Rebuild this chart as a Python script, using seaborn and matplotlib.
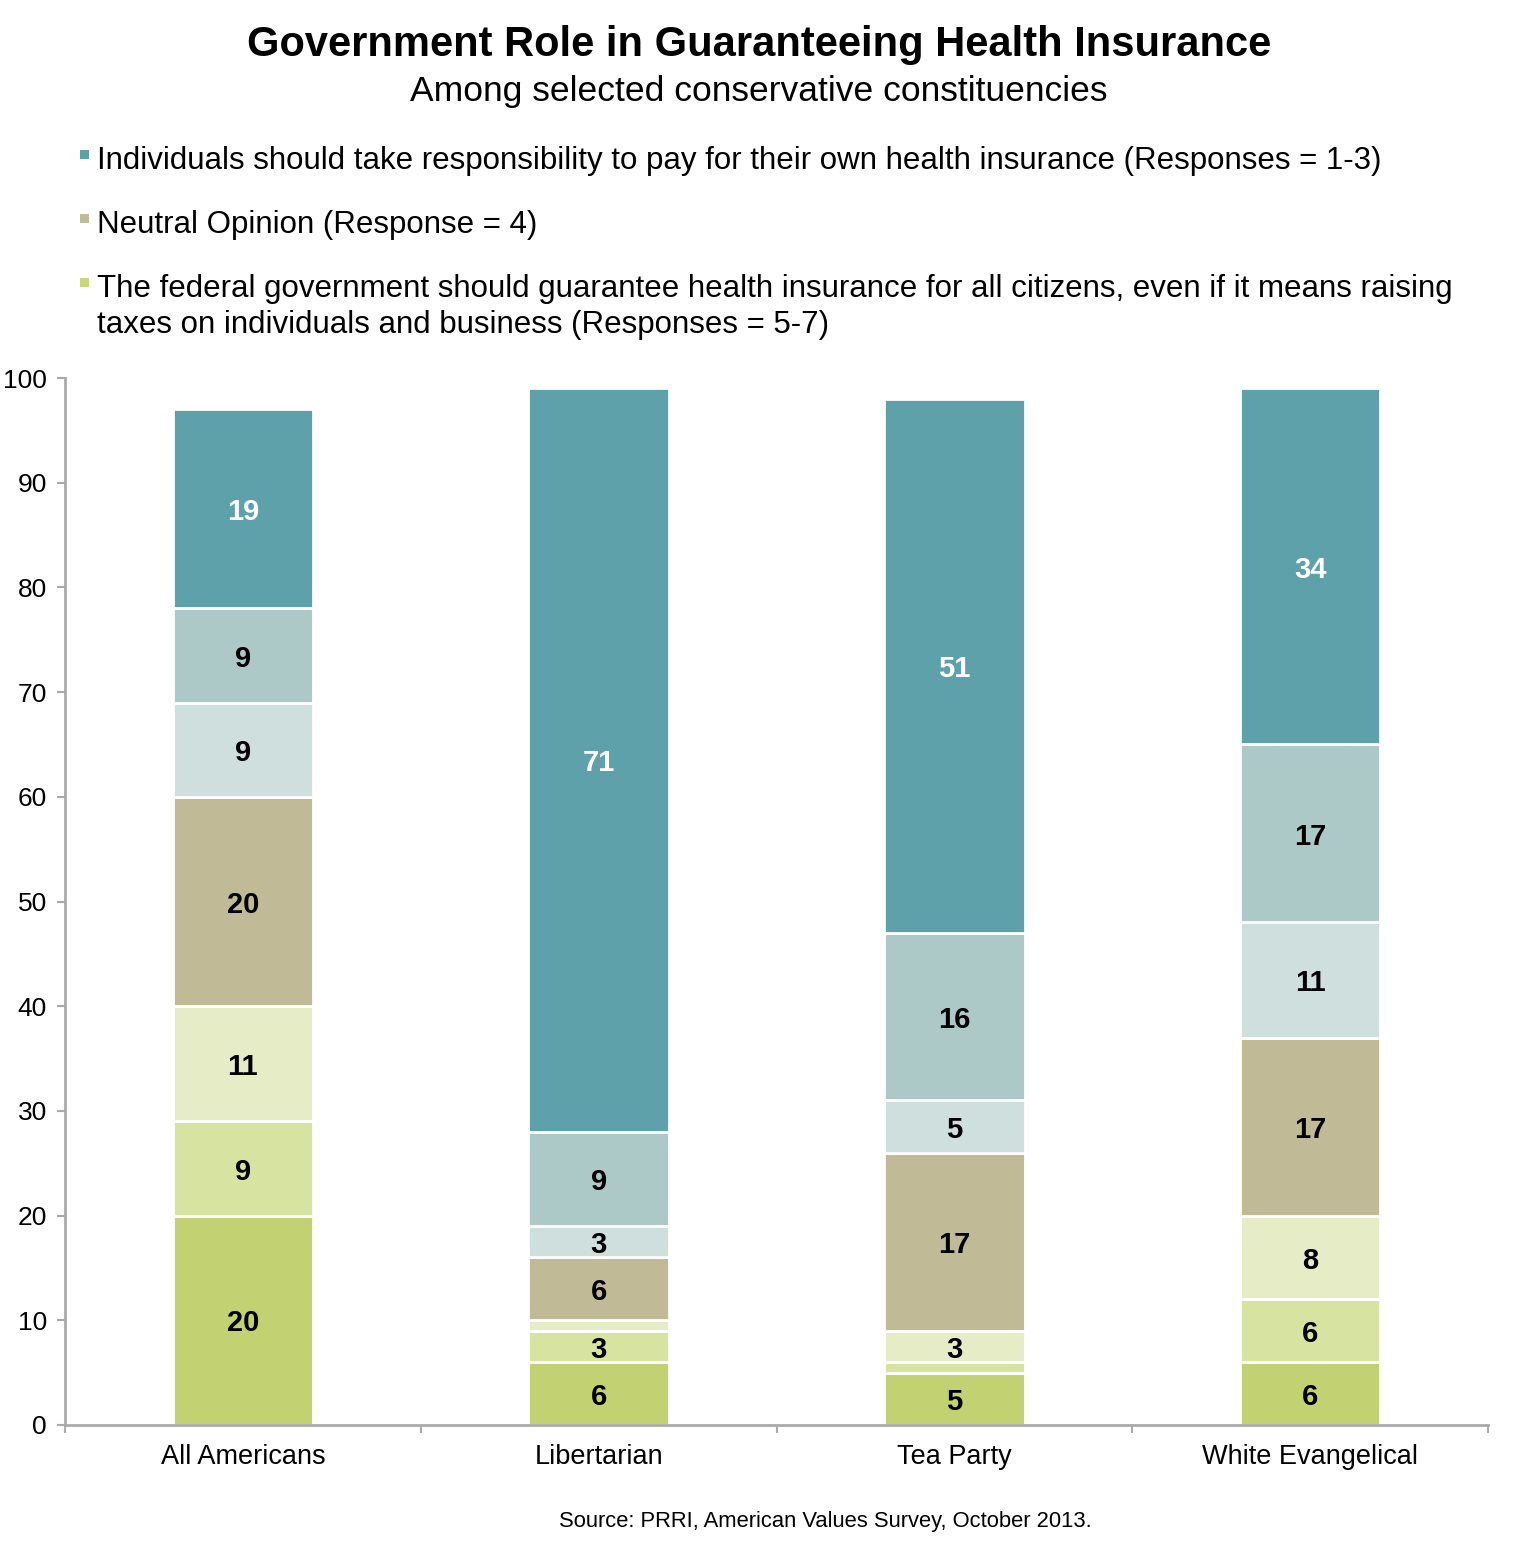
import matplotlib
matplotlib.use("Agg")
import matplotlib.pyplot as plt
from matplotlib.patches import Rectangle
import seaborn as sns
import pandas as pd
import numpy as np

# ---- data ----
groups = ["All Americans", "Libertarian", "Tea Party", "White Evangelical"]
# responses bottom to top: 7 (guarantee) ... 1 (individual)
resp7 = [20, 6, 5, 6]
resp6 = [9, 3, 1, 6]
resp5 = [11, 1, 3, 8]
resp4 = [20, 6, 17, 17]
resp3 = [9, 3, 5, 11]
resp2 = [9, 9, 16, 17]
resp1 = [19, 71, 51, 34]
layers = [resp7, resp6, resp5, resp4, resp3, resp2, resp1]
colors = ["#C2D272", "#D7E3A1", "#E6EDC6", "#C1BA97", "#CFDFDE", "#ACC8C7", "#5FA1AA"]
label_colors = ["black"] * 6 + ["white"]

legend_labels = [
    "Individuals should take responsibility to pay for their own health insurance (Responses = 1-3)",
    "Neutral Opinion (Response = 4)",
    "The federal government should guarantee health insurance for all citizens, even if it means raising",
    "taxes on individuals and business (Responses = 5-7)",
]
legend_colors = ["#5FA1AA", "#C1BA97", "#C8D67C"]

title = "Government Role in Guaranteeing Health Insurance"
subtitle = "Among selected conservative constituencies"
source = "Source: PRRI, American Values Survey, October 2013."

# ---- style ----
sns.set_theme(style="white")
plt.rcParams["font.family"] = ["Liberation Sans", "DejaVu Sans"]

W, H = 1518, 1543
fig = plt.figure(figsize=(W / 100, H / 100), dpi=100)
ax = fig.add_axes([65 / W, 1 - 1425 / H, (1488 - 65) / W, (1425 - 378) / H])

bottom = np.zeros(len(groups))
for vals, col, lc in zip(layers, colors, label_colors):
    df = pd.DataFrame({"group": groups, "value": vals})
    sns.barplot(data=df, x="group", y="value", order=groups, color=col,
                saturation=1, width=0.395, bottom=bottom, edgecolor="white",
                linewidth=2, ax=ax, errorbar=None)
    for i, v in enumerate(vals):
        if v >= 3:
            ax.text(i, bottom[i] + v / 2 - 0.3, str(v), ha="center", va="center",
                    fontsize=21, fontweight="bold", color=lc)
    bottom = bottom + np.array(vals)

ax.set_xlim(-0.5, 3.5)
ax.set_ylim(0, 100)
ax.set_xlabel("")
ax.set_ylabel("")
ax.set_yticks(np.arange(0, 101, 10))
ax.tick_params(axis="y", which="major", left=True, length=6, width=1.5,
               color="#AAAAAA", labelsize=19, pad=7, labelcolor="black")
ax.set_xticks(range(len(groups)))
ax.set_xticklabels(groups)
ax.tick_params(axis="x", which="major", bottom=False, labelsize=19.5, pad=8,
               labelcolor="black")
ax.set_xticks(np.arange(-0.5, 3.6, 1.0), minor=True)
ax.tick_params(axis="x", which="minor", bottom=True, length=6, width=1.5,
               color="#AAAAAA")
for s in ["top", "right"]:
    ax.spines[s].set_visible(False)
for s in ["left", "bottom"]:
    ax.spines[s].set_color("#AAAAAA")
    ax.spines[s].set_linewidth(2)
ax.grid(False)

# ---- titles ----
fig.text(0.5, 1 - 45 / H, title, ha="center", va="center", fontsize=30,
         fontweight="bold", color="black")
fig.text(0.5, 1 - 91 / H, subtitle, ha="center", va="center", fontsize=25.5,
         color="black")

# ---- legend ----
ys = [161, 225, 289, 325]
for k, (lab, y) in enumerate(zip(legend_labels, ys)):
    fig.text(97 / W, 1 - y / H, lab, ha="left", va="center", fontsize=22.5,
             color="black")
for col, y in zip(legend_colors, ys[:3]):
    fig.add_artist(Rectangle((80 / W, 1 - (y - 2) / H), 9 / W, 9 / H,
                             transform=fig.transFigure, facecolor=col,
                             edgecolor="none"))

fig.text(825 / W, 1 - 1521 / H, source, ha="center", va="center",
         fontsize=15.8, color="black")

fig.savefig("out.png", dpi=100)
